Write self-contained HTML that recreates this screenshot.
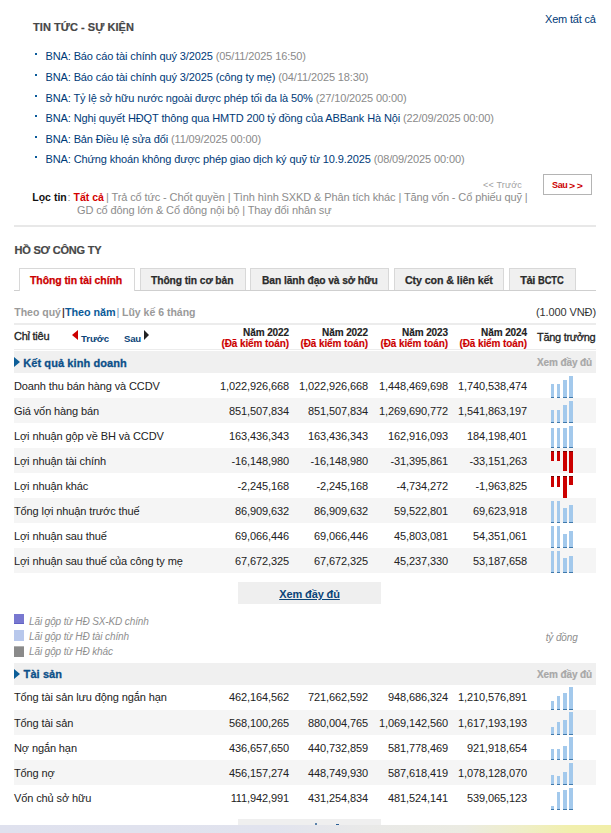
<!DOCTYPE html>
<html><head><meta charset="utf-8">
<style>
*{margin:0;padding:0;box-sizing:border-box}
html,body{width:611px;height:833px;overflow:hidden;background:#fff}
body{position:relative;font-family:"Liberation Sans",sans-serif;font-size:11px;line-height:13px;color:#222;letter-spacing:-0.11px}
.a{position:absolute;white-space:nowrap}
.b{font-weight:bold}
.s10{font-size:10px;line-height:12px}
.s9{font-size:9px;line-height:11px}
.lnk{color:#003a78}
.dt{color:#8a8a8a}
.gr{color:#8c8c8c}
.hd{color:#474747;font-weight:bold;-webkit-text-stroke:0.2px #474747}
.bul{position:absolute;left:35px;width:2px;height:2px;background:#0a5a9a}
.tab{position:absolute;top:268px;height:22px;border:1px solid #d8d8d8;border-bottom:none;background:#f0f0f0}
.tab.on{background:#fff;height:23px}
.tt{position:absolute;top:274px;font-weight:bold;color:#2b2b2b;-webkit-text-stroke:0.25px currentColor}
.r{text-align:right}
.row{position:absolute;left:14px;width:582px;height:25px}
.g{background:#f5f5f5}
.sec{position:absolute;left:14px;width:582px;height:22px;background:#f0f0f0}
.tri{position:absolute;left:14px;width:0;height:0;border-top:5.5px solid transparent;border-bottom:5.5px solid transparent;border-left:6px solid #0d5e98}
.st{color:#0c5089;font-weight:bold;-webkit-text-stroke:0.3px #0c5089}
.xd{font-size:10px;line-height:12px;font-weight:bold;color:#a8a8a8;-webkit-text-stroke:0.2px #a8a8a8}
.hs{-webkit-text-stroke:0.3px currentColor}
.n{position:absolute;text-align:right;width:100px}
.bar{position:absolute;background:#a3c9ec;border-bottom:1px solid #4079ab}
.neg{position:absolute;background:#cc0000;border-top:1px solid #7a0000}
.lg{position:absolute;left:29px;font-size:10px;line-height:12px;font-style:italic;color:#8e8e8e}
.sq{position:absolute;left:14px;width:10px;height:10px}
</style></head><body>

<!-- NEWS -->
<div class="a hd" style="left:33px;top:21px;letter-spacing:0.05px">TIN TỨC - SỰ KIỆN</div>
<div class="a lnk" style="left:545px;top:13px;letter-spacing:-0.18px">Xem tất cả</div>

<div class="bul" style="top:53px"></div>
<div class="a" style="left:45.5px;top:50px;letter-spacing:-0.12px"><span class="lnk">BNA: Báo cáo tài chính quý 3/2025</span> <span class="dt">(05/11/2025 16:50)</span></div>
<div class="bul" style="top:74px"></div>
<div class="a" style="left:45.5px;top:71px;letter-spacing:-0.12px"><span class="lnk">BNA: Báo cáo tài chính quý 3/2025 (công ty mẹ)</span> <span class="dt">(04/11/2025 18:30)</span></div>
<div class="bul" style="top:95px"></div>
<div class="a" style="left:45.5px;top:92px;letter-spacing:-0.12px"><span class="lnk">BNA: Tỷ lệ sở hữu nước ngoài được phép tối đa là 50%</span> <span class="dt">(27/10/2025 00:00)</span></div>
<div class="bul" style="top:115px"></div>
<div class="a" style="left:45.5px;top:112px;letter-spacing:-0.12px"><span class="lnk">BNA: Nghị quyết HĐQT thông qua HMTD 200 tỷ đồng của ABBank Hà Nội</span> <span class="dt">(22/09/2025 00:00)</span></div>
<div class="bul" style="top:136px"></div>
<div class="a" style="left:45.5px;top:133px;letter-spacing:-0.12px"><span class="lnk">BNA: Bản Điều lệ sửa đổi</span> <span class="dt">(11/09/2025 00:00)</span></div>
<div class="bul" style="top:156px"></div>
<div class="a" style="left:45.5px;top:153px;letter-spacing:-0.12px"><span class="lnk">BNA: Chứng khoán không được phép giao dịch ký quỹ từ 10.9.2025</span> <span class="dt">(08/09/2025 00:00)</span></div>

<!-- filter -->
<div class="a b" style="left:32.3px;top:191px;color:#111;font-size:10.5px;letter-spacing:0">Lọc tin</div>
<div class="a gr" style="left:67.5px;top:191px">:</div>
<div class="a b" style="left:73.5px;top:191px;color:#d40000;font-size:10.5px;letter-spacing:0">Tất cả</div>
<div class="a gr" style="left:106px;top:191px">| Trả cổ tức - Chốt quyền | Tình hình SXKD &amp; Phân tích khác | Tăng vốn - Cổ phiếu quỹ |</div>
<div class="a gr" style="left:77px;top:204px">GD cổ đông lớn &amp; Cổ đông nội bộ | Thay đổi nhân sự</div>
<div class="a s9" style="left:483px;top:180px;color:#a0a0a0;letter-spacing:0.2px">&lt;&lt; Trước</div>
<div class="a" style="left:543px;top:174px;width:49px;height:21px;border:1px solid #b4b4b4"></div>
<div class="a s9 b" style="left:552px;top:180px;color:#cc0000;letter-spacing:-0.35px">Sau</div>
<div class="a s9 b" style="left:569.3px;top:179.7px;color:#cc0000;letter-spacing:1.5px;font-size:9.5px;transform:scaleX(1.1);transform-origin:0 0">&gt;&gt;</div>

<div class="a" style="left:14px;top:225px;width:582px;height:2px;background:#e8e8e8"></div>

<!-- COMPANY -->
<div class="a hd" style="left:14.5px;top:244px;letter-spacing:-0.2px">HỒ SƠ CÔNG TY</div>

<div class="a" style="left:14px;top:290px;width:582px;height:1px;background:#cfcfcf"></div>
<div class="tab on" style="left:19px;width:116px"></div>
<div class="tab" style="left:140px;width:106px"></div>
<div class="tab" style="left:250px;width:139px"></div>
<div class="tab" style="left:394px;width:110px"></div>
<div class="tab" style="left:509px;width:67px"></div>
<div class="a tt" style="left:30px;color:#cc0000;letter-spacing:-0.1px;transform:scaleX(0.955);transform-origin:0 0">Thông tin tài chính</div>
<div class="a tt" style="left:151.3px;letter-spacing:-0.1px;transform:scaleX(0.935);transform-origin:0 0">Thông tin cơ bản</div>
<div class="a tt" style="left:261.6px;letter-spacing:-0.1px;transform:scaleX(0.935);transform-origin:0 0">Ban lãnh đạo và sở hữu</div>
<div class="a tt" style="left:404.6px;letter-spacing:-0.1px;transform:scaleX(0.97);transform-origin:0 0">Cty con &amp; liên kết</div>
<div class="a tt" style="left:520.2px;letter-spacing:-0.4px">Tải</div>
<div class="a tt" style="left:538.4px;letter-spacing:-0.1px;transform:scaleX(0.85);transform-origin:0 0">BCTC</div>

<div class="a b" style="left:14.3px;top:306px;color:#9a9a9a;letter-spacing:0;font-size:10.5px">Theo quý</div>
<div class="a" style="left:62px;top:306px;color:#3a1010;-webkit-text-stroke:0.2px #3a1010">|</div>
<div class="a b" style="left:65px;top:306px;color:#0b5a98;font-size:10.8px;letter-spacing:-0.05px">Theo năm</div>
<div class="a" style="left:116.5px;top:306px;color:#7d9ab8">|</div>
<div class="a b" style="left:122px;top:306px;color:#9a9a9a;letter-spacing:0;font-size:10.5px">Lũy kế 6 tháng</div>
<div class="a" style="left:496px;top:306px;width:100px;text-align:right;color:#333">(1.000 VNĐ)</div>
<div class="a" style="left:14px;top:323px;width:582px;height:2px;background:#ececec"></div>

<!-- header -->
<div class="a hs" style="left:14px;top:330px;color:#222;letter-spacing:-0.25px">Chỉ tiêu</div>
<div class="a" style="left:72px;top:330px;width:0;height:0;border-top:5px solid transparent;border-bottom:5px solid transparent;border-right:6px solid #cc0000"></div>
<div class="a s9 b" style="left:81px;top:333px;font-size:9.6px;color:#0b4478;letter-spacing:-0.05px">Trước</div>
<div class="a s9 b" style="left:124px;top:333px;font-size:9.6px;color:#0b4478;letter-spacing:-0.2px">Sau</div>
<div class="a" style="left:144px;top:330px;width:0;height:0;border-top:5px solid transparent;border-bottom:5px solid transparent;border-left:5px solid #222"></div>

<div class="a s10 b r" style="left:189px;top:327px;width:100px;letter-spacing:-0.1px;-webkit-text-stroke:0.15px #222">Năm 2022</div>
<div class="a s10 b r" style="left:189px;top:338px;width:100px;color:#cc0000;letter-spacing:-0.1px;-webkit-text-stroke:0.15px #cc0000">(Đã kiểm toán)</div>
<div class="a s10 b r" style="left:268px;top:327px;width:100px;letter-spacing:-0.1px;-webkit-text-stroke:0.15px #222">Năm 2022</div>
<div class="a s10 b r" style="left:268px;top:338px;width:100px;color:#cc0000;letter-spacing:-0.1px;-webkit-text-stroke:0.15px #cc0000">(Đã kiểm toán)</div>
<div class="a s10 b r" style="left:348px;top:327px;width:100px;letter-spacing:-0.1px;-webkit-text-stroke:0.15px #222">Năm 2023</div>
<div class="a s10 b r" style="left:348px;top:338px;width:100px;color:#cc0000;letter-spacing:-0.1px;-webkit-text-stroke:0.15px #cc0000">(Đã kiểm toán)</div>
<div class="a s10 b r" style="left:427px;top:327px;width:100px;letter-spacing:-0.1px;-webkit-text-stroke:0.15px #222">Năm 2024</div>
<div class="a s10 b r" style="left:427px;top:338px;width:100px;color:#cc0000;letter-spacing:-0.1px;-webkit-text-stroke:0.15px #cc0000">(Đã kiểm toán)</div>
<div class="a hs" style="left:537px;top:331px;color:#222;letter-spacing:-0.3px">Tăng trưởng</div>
<div class="a" style="left:14px;top:349px;width:582px;height:1px;background:#ececec"></div>

<!-- section 1 -->
<div class="sec" style="top:351px"></div>
<div class="tri" style="top:357px"></div>
<div class="a st" style="left:23.2px;top:357px;letter-spacing:0.09px">Kết quả kinh doanh</div>
<div class="a xd" style="left:496px;top:357px;width:96px;text-align:right">Xem đầy đủ</div>

<!--R1-->
<div class="row" style="top:373px"></div>
<div class="a lab" style="left:14px;top:380px">Doanh thu bán hàng và CCDV</div>
<div class="a n" style="left:189px;top:380px">1,022,926,668</div>
<div class="a n" style="left:268px;top:380px">1,022,926,668</div>
<div class="a n" style="left:348px;top:380px">1,448,469,698</div>
<div class="a n" style="left:427px;top:380px">1,740,538,474</div>
<div class="bar" style="left:551px;top:384px;width:3px;height:14px"></div>
<div class="bar" style="left:557px;top:384px;width:3px;height:14px"></div>
<div class="bar" style="left:563px;top:380px;width:4px;height:18px"></div>
<div class="bar" style="left:569px;top:376px;width:4px;height:22px"></div>
<div class="row g" style="top:398px"></div>
<div class="a lab" style="left:14px;top:405px">Giá vốn hàng bán</div>
<div class="a n" style="left:189px;top:405px">851,507,834</div>
<div class="a n" style="left:268px;top:405px">851,507,834</div>
<div class="a n" style="left:348px;top:405px">1,269,690,772</div>
<div class="a n" style="left:427px;top:405px">1,541,863,197</div>
<div class="bar" style="left:551px;top:410px;width:3px;height:13px"></div>
<div class="bar" style="left:557px;top:410px;width:3px;height:13px"></div>
<div class="bar" style="left:563px;top:405px;width:4px;height:18px"></div>
<div class="bar" style="left:569px;top:401px;width:4px;height:22px"></div>
<div class="row" style="top:423px"></div>
<div class="a lab" style="left:14px;top:430px">Lợi nhuận gộp về BH và CCDV</div>
<div class="a n" style="left:189px;top:430px">163,436,343</div>
<div class="a n" style="left:268px;top:430px">163,436,343</div>
<div class="a n" style="left:348px;top:430px">162,916,093</div>
<div class="a n" style="left:427px;top:430px">184,198,401</div>
<div class="bar" style="left:551px;top:428px;width:3px;height:20px"></div>
<div class="bar" style="left:557px;top:428px;width:3px;height:20px"></div>
<div class="bar" style="left:563px;top:428px;width:4px;height:20px"></div>
<div class="bar" style="left:569px;top:426px;width:4px;height:22px"></div>
<div class="row g" style="top:448px"></div>
<div class="a lab" style="left:14px;top:455px">Lợi nhuận tài chính</div>
<div class="a n" style="left:189px;top:455px">-16,148,980</div>
<div class="a n" style="left:268px;top:455px">-16,148,980</div>
<div class="a n" style="left:348px;top:455px">-31,395,861</div>
<div class="a n" style="left:427px;top:455px">-33,151,263</div>
<div class="neg" style="left:551px;top:451px;width:3px;height:10px"></div>
<div class="neg" style="left:557px;top:451px;width:3px;height:10px"></div>
<div class="neg" style="left:563px;top:451px;width:4px;height:20px"></div>
<div class="neg" style="left:569px;top:451px;width:4px;height:22px"></div>
<div class="row" style="top:473px"></div>
<div class="a lab" style="left:14px;top:480px">Lợi nhuận khác</div>
<div class="a n" style="left:189px;top:480px">-2,245,168</div>
<div class="a n" style="left:268px;top:480px">-2,245,168</div>
<div class="a n" style="left:348px;top:480px">-4,734,272</div>
<div class="a n" style="left:427px;top:480px">-1,963,825</div>
<div class="neg" style="left:551px;top:476px;width:3px;height:11px"></div>
<div class="neg" style="left:557px;top:476px;width:3px;height:11px"></div>
<div class="neg" style="left:563px;top:476px;width:4px;height:22px"></div>
<div class="neg" style="left:569px;top:476px;width:4px;height:9px"></div>
<div class="row g" style="top:498px"></div>
<div class="a lab" style="left:14px;top:505px">Tổng lợi nhuận trước thuế</div>
<div class="a n" style="left:189px;top:505px">86,909,632</div>
<div class="a n" style="left:268px;top:505px">86,909,632</div>
<div class="a n" style="left:348px;top:505px">59,522,801</div>
<div class="a n" style="left:427px;top:505px">69,623,918</div>
<div class="bar" style="left:551px;top:501px;width:3px;height:22px"></div>
<div class="bar" style="left:557px;top:501px;width:3px;height:22px"></div>
<div class="bar" style="left:563px;top:508px;width:4px;height:15px"></div>
<div class="bar" style="left:569px;top:505px;width:4px;height:18px"></div>
<div class="row" style="top:523px"></div>
<div class="a lab" style="left:14px;top:530px">Lợi nhuận sau thuế</div>
<div class="a n" style="left:189px;top:530px">69,066,446</div>
<div class="a n" style="left:268px;top:530px">69,066,446</div>
<div class="a n" style="left:348px;top:530px">45,803,081</div>
<div class="a n" style="left:427px;top:530px">54,351,061</div>
<div class="bar" style="left:551px;top:526px;width:3px;height:22px"></div>
<div class="bar" style="left:557px;top:526px;width:3px;height:22px"></div>
<div class="bar" style="left:563px;top:534px;width:4px;height:14px"></div>
<div class="bar" style="left:569px;top:531px;width:4px;height:17px"></div>
<div class="row g" style="top:548px"></div>
<div class="a lab" style="left:14px;top:555px">Lợi nhuận sau thuế của công ty mẹ</div>
<div class="a n" style="left:189px;top:555px">67,672,325</div>
<div class="a n" style="left:268px;top:555px">67,672,325</div>
<div class="a n" style="left:348px;top:555px">45,237,330</div>
<div class="a n" style="left:427px;top:555px">53,187,658</div>
<div class="bar" style="left:551px;top:551px;width:3px;height:22px"></div>
<div class="bar" style="left:557px;top:551px;width:3px;height:22px"></div>
<div class="bar" style="left:563px;top:558px;width:4px;height:15px"></div>
<div class="bar" style="left:569px;top:556px;width:4px;height:17px"></div>
<!--/R1-->

<div class="a" style="left:238px;top:582px;width:143px;height:22px;background:#efefef"></div>
<div class="a b" style="left:238px;top:588px;width:143px;text-align:center;color:#0b4478;text-decoration:underline">Xem đầy đủ</div>

<div class="sq" style="top:614px;background:#7878d0;border-bottom:1px solid #6262c4"></div>
<div class="lg" style="top:616px">Lãi gộp từ HĐ SX-KD chính</div>
<div class="sq" style="top:630px;height:11px;background:#b8c8ec"></div>
<div class="lg" style="top:631px">Lãi gộp từ HĐ tài chính</div>
<div class="sq" style="top:646px;height:11px;background:#8a8a8a;border-top:1px solid #b0b0b0"></div>
<div class="lg" style="top:646px">Lãi gộp từ HĐ khác</div>
<div class="a" style="left:545.7px;top:632px;font-size:10px;line-height:12px;font-style:italic;color:#8e8e8e">tỷ đồng</div>

<!-- section 2 -->
<div class="sec" style="top:663px"></div>
<div class="tri" style="top:669px"></div>
<div class="a st" style="left:23.6px;top:668px;letter-spacing:0.09px">Tài sản</div>
<div class="a xd" style="left:496px;top:669px;width:96px;text-align:right">Xem đầy đủ</div>

<!--R2-->
<div class="row" style="top:685px"></div>
<div class="a lab" style="left:14px;top:691px">Tổng tài sản lưu động ngắn hạn</div>
<div class="a n" style="left:189px;top:691px">462,164,562</div>
<div class="a n" style="left:268px;top:691px">721,662,592</div>
<div class="a n" style="left:348px;top:691px">948,686,324</div>
<div class="a n" style="left:427px;top:691px">1,210,576,891</div>
<div class="bar" style="left:551px;top:701px;width:3px;height:9px"></div>
<div class="bar" style="left:557px;top:696px;width:3px;height:14px"></div>
<div class="bar" style="left:563px;top:693px;width:4px;height:17px"></div>
<div class="bar" style="left:569px;top:687px;width:4px;height:23px"></div>
<div class="row g" style="top:710px"></div>
<div class="a lab" style="left:14px;top:717px">Tổng tài sản</div>
<div class="a n" style="left:189px;top:717px">568,100,265</div>
<div class="a n" style="left:268px;top:717px">880,004,765</div>
<div class="a n" style="left:348px;top:717px">1,069,142,560</div>
<div class="a n" style="left:427px;top:717px">1,617,193,193</div>
<div class="bar" style="left:551px;top:727px;width:3px;height:8px"></div>
<div class="bar" style="left:557px;top:722px;width:3px;height:13px"></div>
<div class="bar" style="left:563px;top:720px;width:4px;height:15px"></div>
<div class="bar" style="left:569px;top:712px;width:4px;height:23px"></div>
<div class="row" style="top:735px"></div>
<div class="a lab" style="left:14px;top:742px">Nợ ngắn hạn</div>
<div class="a n" style="left:189px;top:742px">436,657,650</div>
<div class="a n" style="left:268px;top:742px">440,732,859</div>
<div class="a n" style="left:348px;top:742px">581,778,469</div>
<div class="a n" style="left:427px;top:742px">921,918,654</div>
<div class="bar" style="left:551px;top:749px;width:3px;height:11px"></div>
<div class="bar" style="left:557px;top:749px;width:3px;height:11px"></div>
<div class="bar" style="left:563px;top:746px;width:4px;height:14px"></div>
<div class="bar" style="left:569px;top:737px;width:4px;height:23px"></div>
<div class="row g" style="top:760px"></div>
<div class="a lab" style="left:14px;top:767px">Tổng nợ</div>
<div class="a n" style="left:189px;top:767px">456,157,274</div>
<div class="a n" style="left:268px;top:767px">448,749,930</div>
<div class="a n" style="left:348px;top:767px">587,618,419</div>
<div class="a n" style="left:427px;top:767px">1,078,128,070</div>
<div class="bar" style="left:551px;top:775px;width:3px;height:10px"></div>
<div class="bar" style="left:557px;top:776px;width:3px;height:9px"></div>
<div class="bar" style="left:563px;top:772px;width:4px;height:13px"></div>
<div class="bar" style="left:569px;top:763px;width:4px;height:22px"></div>
<div class="row" style="top:785px"></div>
<div class="a lab" style="left:14px;top:792px">Vốn chủ sở hữu</div>
<div class="a n" style="left:189px;top:792px">111,942,991</div>
<div class="a n" style="left:268px;top:792px">431,254,834</div>
<div class="a n" style="left:348px;top:792px">481,524,141</div>
<div class="a n" style="left:427px;top:792px">539,065,123</div>
<div class="bar" style="left:551px;top:806px;width:3px;height:4px"></div>
<div class="bar" style="left:557px;top:792px;width:3px;height:18px"></div>
<div class="bar" style="left:563px;top:790px;width:4px;height:20px"></div>
<div class="bar" style="left:569px;top:788px;width:4px;height:22px"></div>
<!--/R2-->
<div class="a" style="left:238px;top:819px;width:143px;height:22px;background:#efefef"></div>
<div class="a" style="left:315px;top:823px;width:2px;height:2px;background:#2a5f95;border-radius:1px"></div>
<div class="a" style="left:335.5px;top:824px;width:3px;height:1px;background:#2a5f95"></div>

<div class="a" style="left:0;top:825px;width:611px;height:8px;background:linear-gradient(to right,#dfe1ee 0%,#e1e3ee 45%,#e9e9e8 60%,#ebebe2 76%,#efeec6 86%,#f1efae 93%,#f1eea8 100%)"></div>
</body></html>
